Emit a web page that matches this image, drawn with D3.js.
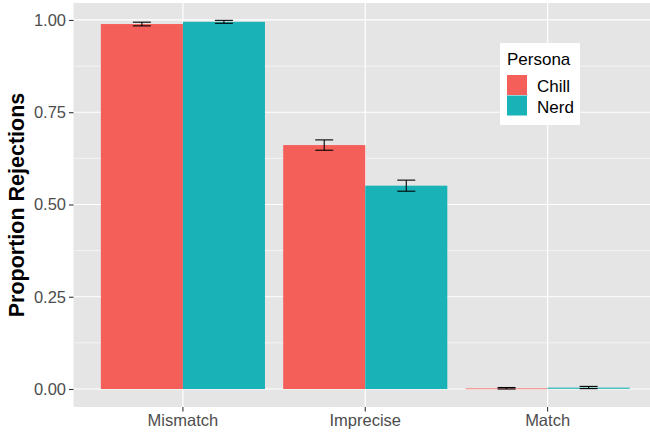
<!DOCTYPE html>
<html><head><meta charset="utf-8">
<script src="https://cdn.jsdelivr.net/npm/d3@7"></script>
<style>body{margin:0;background:#fff}svg{display:block;font-family:"Liberation Sans",Arial,sans-serif}</style>
</head><body><svg id="c" width="650" height="433"></svg>
<script>
const categories = ["Mismatch", "Imprecise", "Match"];
const personas = ["Chill", "Nerd"];
const chillValues = [0.989, 0.661, 0.002];
const nerdValues  = [0.995, 0.551, 0.004];
const chillErr = [0.005, 0.014, 0.002];
const nerdErr  = [0.004, 0.015, 0.003];
const yTicks = [0, 0.25, 0.5, 0.75, 1.0];
const yMinor = [0.125, 0.375, 0.625, 0.875];
const colors = ["#F45F5A", "#19B2B6"];

const data = [];
categories.forEach((c, i) => {
  data.push({cat: c, persona: "Chill", v: chillValues[i], e: chillErr[i]});
  data.push({cat: c, persona: "Nerd", v: nerdValues[i], e: nerdErr[i]});
});

const svg = d3.select("#c");
const P = {l: 73.5, r: 657, t: 3, b: 407};
const x = d3.scaleBand().domain(categories).range([P.l, P.r]).paddingInner(0.1).paddingOuter(0.15);
const xs = d3.scaleBand().domain(personas).range([0, x.bandwidth()]);
const y = d3.scaleLinear().domain([-0.0488, 1.046]).range([P.b, P.t]);
const col = d3.scaleOrdinal().domain(personas).range(colors);

svg.append("rect").attr("x", P.l).attr("y", P.t).attr("width", P.r - P.l).attr("height", P.b - P.t).attr("fill", "#E5E5E5");
const g = svg.append("g");
g.selectAll(".mn").data(yMinor).join("line")
  .attr("x1", P.l).attr("x2", P.r).attr("y1", d => y(d)).attr("y2", d => y(d))
  .attr("stroke", "#fff").attr("stroke-width", 0.6);
g.selectAll(".mj").data(yTicks).join("line")
  .attr("x1", P.l).attr("x2", P.r).attr("y1", d => y(d)).attr("y2", d => y(d))
  .attr("stroke", "#fff").attr("stroke-width", 1.2);
g.selectAll(".vx").data(categories).join("line")
  .attr("x1", d => x(d) + x.bandwidth() / 2).attr("x2", d => x(d) + x.bandwidth() / 2)
  .attr("y1", P.t).attr("y2", P.b).attr("stroke", "#fff").attr("stroke-width", 1.2);

svg.selectAll(".bar").data(data).join("rect")
  .attr("x", d => x(d.cat) + xs(d.persona))
  .attr("width", xs.bandwidth())
  .attr("y", d => y(d.v))
  .attr("height", d => Math.max(y(0) - y(d.v), 1))
  .attr("fill", d => col(d.persona))
  .attr("opacity", d => d.v < 0.01 ? 0.75 : 1);

const ew = 18;
const eb = svg.selectAll(".eb").data(data).join("g")
  .attr("transform", d => `translate(${x(d.cat) + xs(d.persona) + xs.bandwidth() / 2},0)`);
eb.append("line").attr("x1", 0).attr("x2", 0).attr("y1", d => y(d.v + d.e)).attr("y2", d => y(d.v - d.e)).attr("stroke", "#000").attr("stroke-width", 1.1);
eb.append("line").attr("x1", -ew / 2).attr("x2", ew / 2).attr("y1", d => y(d.v + d.e)).attr("y2", d => y(d.v + d.e)).attr("stroke", "#000").attr("stroke-width", 1.1);
eb.append("line").attr("x1", -ew / 2).attr("x2", ew / 2).attr("y1", d => y(d.v - d.e)).attr("y2", d => y(d.v - d.e)).attr("stroke", "#000").attr("stroke-width", 1.1);

// axes
const yAxis = svg.append("g").attr("transform", `translate(${P.l},0)`)
  .call(d3.axisLeft(y).tickValues(yTicks).tickFormat(d3.format(".2f")).tickSize(4.5).tickPadding(3));
const xAxis = svg.append("g").attr("transform", `translate(0,${P.b})`)
  .call(d3.axisBottom(x).tickSize(4.5).tickPadding(3));
[yAxis, xAxis].forEach(a => {
  a.select(".domain").remove();
  a.selectAll(".tick line").attr("stroke", "#333").attr("stroke-width", 1.1);
  a.selectAll(".tick text").attr("fill", "#4D4D4D").style("font-size", "16.5px").style("font-family", '"Liberation Sans",Arial,sans-serif');
});

svg.append("text").attr("transform", `translate(24,${(P.t + P.b) / 2}) rotate(-90)`)
  .attr("text-anchor", "middle").style("font-size", "21.5px").style("font-weight", "bold").attr("fill", "#000")
  .text("Proportion Rejections");

// legend
const lg = svg.append("g").attr("transform", "translate(500,43)");
lg.append("rect").attr("width", 80).attr("height", 82).attr("fill", "#fff");
lg.append("text").attr("x", 7).attr("y", 22).style("font-size", "17px").attr("fill", "#000").text("Persona");
personas.forEach((p, i) => {
  lg.append("rect").attr("x", 7).attr("y", 32 + i * 20.5).attr("width", 20).attr("height", 20).attr("fill", col(p));
  lg.append("text").attr("x", 37).attr("y", 49 + i * 20.5).style("font-size", "17px").attr("fill", "#000").text(p);
});
</script></body></html>
